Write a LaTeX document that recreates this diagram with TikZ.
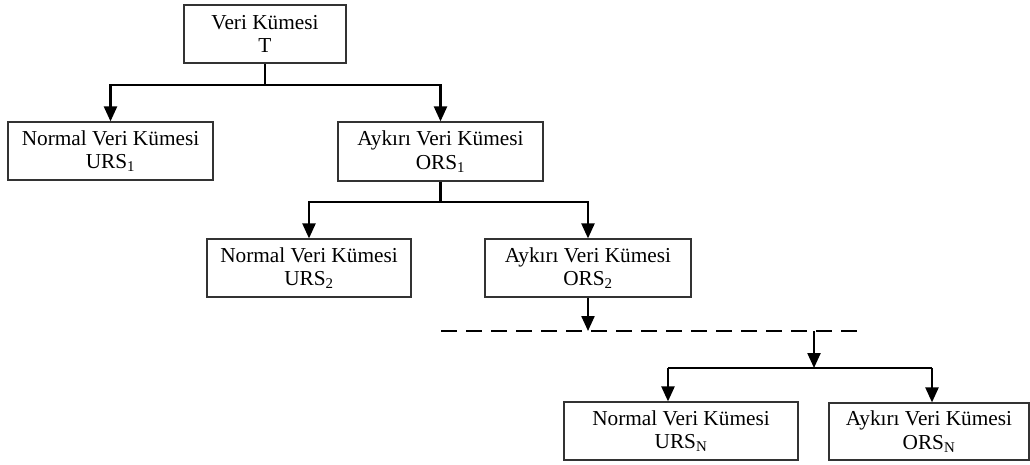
\documentclass[tikz,border=0pt]{standalone}
\usepackage{fontspec}
\setmainfont{Liberation Serif}
\usetikzlibrary{arrows.meta}
\begin{document}
\begin{tikzpicture}[x=1pt,y=-1pt,
  box/.style={draw=black!80,line width=1.2pt,fill=white,inner sep=0pt,align=center,
    font=\fontsize{21.3}{23.5}\selectfont},
  conn/.style={line width=2.3pt},
  arr/.style={conn,-{Triangle[length=15pt,width=13pt]}},
  dashline/.style={line width=2.3pt,dash pattern=on 16pt off 9pt}]
\useasboundingbox (0,0) rectangle (1030,464);
\node[box,minimum width=162pt,minimum height=58pt] (T) at (265,34) {Veri Kümesi\\T};
\node[box,minimum width=205pt,minimum height=58pt] (U1) at (110.5,151) {Normal Veri Kümesi\\URS\textsubscript{1}};
\node[box,minimum width=205pt,minimum height=59pt] (O1) at (440.5,151.5) {Aykırı Veri Kümesi\\ORS\textsubscript{1}};
\node[box,minimum width=204pt,minimum height=58pt] (U2) at (309,268) {Normal Veri Kümesi\\URS\textsubscript{2}};
\node[box,minimum width=206pt,minimum height=58pt] (O2) at (588,268) {Aykırı Veri Kümesi\\ORS\textsubscript{2}};
\node[box,minimum width=234pt,minimum height=58pt] (U3) at (681,431) {Normal Veri Kümesi\\URS\textsubscript{N}};
\node[box,minimum width=200pt,minimum height=57pt] (O3) at (929,431.5) {Aykırı Veri Kümesi\\ORS\textsubscript{N}};
% level 1
\coordinate (j1) at (265,85);
\draw[conn] (T.south) -- (j1);
\draw[arr] (j1) -| (U1.north);
\draw[arr] (j1) -| (O1.north);
% level 2
\coordinate (j2) at (440.5,202);
\draw[conn] (O1.south) -- (j2);
\draw[arr] (j2) -| (U2.north);
\draw[arr] (j2) -| (O2.north);
% dashed continuation
\coordinate (dL) at (441,331);
\coordinate (dR) at (857,331);
\draw[dashline] (dL) -- (dR);
\draw[arr] (O2.south) -- (O2.south |- dL);
\coordinate (d3) at (814,331);
\coordinate (j3) at (814,368);
\draw[arr] (d3) -- (j3);
% level 3
\coordinate (a3l) at (668,368);
\coordinate (a3r) at (932,368);
\draw[conn] (a3l) -- (a3r);
\draw[arr] (a3l) -- (a3l |- U3.north);
\draw[arr] (a3r) -- (a3r |- O3.north);
\end{tikzpicture}
\end{document}
